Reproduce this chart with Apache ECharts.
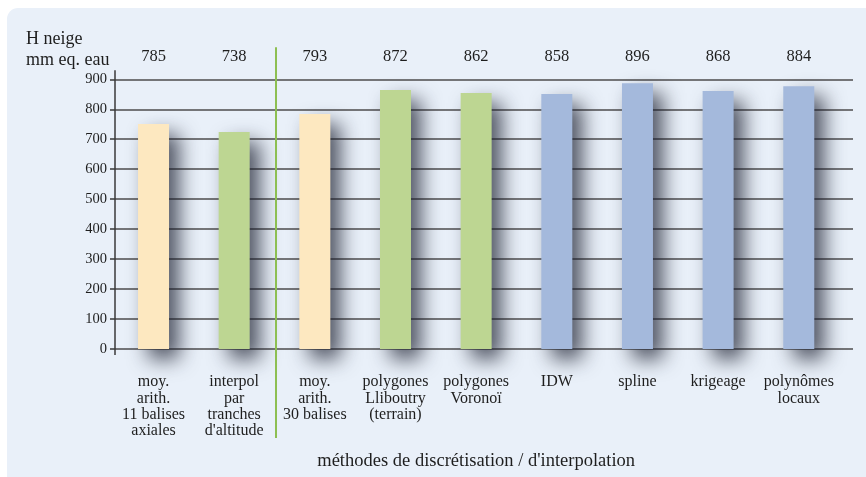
<!DOCTYPE html>
<html><head><meta charset="utf-8">
<script src="https://cdn.jsdelivr.net/npm/echarts@6/dist/echarts.min.js"></script>
<style>html,body{margin:0;padding:0;background:#fff}#c{width:866px;height:477px}</style>
</head><body><div id="c"></div>
<script>
const categories = ['moy.\narith.\n11 balises\naxiales', 'interpol\npar\ntranches\nd\'altitude', 'moy.\narith.\n30 balises', 'polygones\nLliboutry\n(terrain)', 'polygones\nVoronoï', 'IDW', 'spline', 'krigeage', 'polynômes\nlocaux'];
const barValues = [751, 724, 784, 864, 854, 851, 887, 861, 877];
const topLabels = ['785', '738', '793', '872', '862', '858', '896', '868', '884'];
const barGroups = ['arith', 'interp', 'arith', 'poly', 'poly', 'geo', 'geo', 'geo', 'geo'];
const groupColors = { arith: '#fde8c0', interp: '#bdd692', poly: '#bdd692', geo: '#a4b9dc' };
const yTicks = { min: 0, max: 900, interval: 100 };
const yTitle = 'H neige\nmm eq. eau';
const xTitle = 'méthodes de discrétisation / d\'interpolation';

const FONT = '"Liberation Serif", serif';
const TXT = '#1e1e1e';
const chart = echarts.init(document.getElementById('c'), null, { renderer: 'canvas' });

const option = {
  animation: false,
  backgroundColor: '#ffffff',
  textStyle: { fontFamily: FONT, color: TXT },
  title: {
    text: yTitle, left: 21, top: 24,
    textStyle: { fontFamily: FONT, fontSize: 18, fontWeight: 'normal', color: TXT, lineHeight: 21 }
  },
  grid: [
    { left: 115, right: 13, top: 79.3, bottom: 128 },
    { left: 113.2, right: 26.9, top: 79.3, bottom: 128 }
  ],
  xAxis: [
    { type: 'value', gridIndex: 0, show: false, min: 0, max: 1 },
    {
      type: 'category', gridIndex: 1, data: categories, position: 'bottom',
      axisLine: { show: false }, axisTick: { show: false },
      axisLabel: { interval: 0, margin: 25, fontFamily: FONT, fontSize: 16, lineHeight: 16.2, color: TXT, align: 'center' },
      name: xTitle, nameLocation: 'middle', nameGap: 103,
      nameTextStyle: { fontFamily: FONT, fontSize: 18.5, color: TXT }
    },
    {
      type: 'category', gridIndex: 1, data: topLabels, position: 'top',
      axisLine: { show: false }, axisTick: { show: false },
      axisLabel: { interval: 0, margin: 14, fontFamily: FONT, fontSize: 16.5, color: TXT }
    }
  ],
  yAxis: [
    {
      type: 'value', gridIndex: 0, min: yTicks.min, max: yTicks.max, interval: yTicks.interval,
      axisLine: { show: false },
      axisTick: { show: true, length: 5, lineStyle: { color: '#3a3a3a', width: 1.5 } },
      axisLabel: { margin: 8, fontFamily: FONT, fontSize: 14.5, color: TXT },
      splitLine: { show: true, lineStyle: { color: '#4d4d4d', width: 1.7 } }
    },
    { type: 'value', gridIndex: 1, min: yTicks.min, max: yTicks.max, show: false }
  ],
  series: [{
    type: 'bar', xAxisIndex: 1, yAxisIndex: 1, barWidth: 31,
    data: barValues.map((v, i) => ({
      value: v,
      itemStyle: {
        color: groupColors[barGroups[i]],
        shadowColor: 'rgba(25,30,45,0.75)', shadowBlur: 20, shadowOffsetX: 10, shadowOffsetY: 10
      }
    })),
    z: 3
  }]
};
chart.setOption(option);

// decorations positioned from the axes
const sepX = (chart.convertToPixel({ xAxisIndex: 1 }, 1) + chart.convertToPixel({ xAxisIndex: 1 }, 2)) / 2 + 1.5;
const y0 = chart.convertToPixel({ yAxisIndex: 0 }, 0);
const yTop = chart.convertToPixel({ yAxisIndex: 0 }, 900);
const axX = chart.convertToPixel({ xAxisIndex: 0 }, 0);
chart.setOption({
  graphic: [
    { type: 'rect', z: -10, silent: true, shape: { x: 7, y: 8, width: 870, height: 480, r: [11, 0, 0, 0] }, style: { fill: '#e9f0f9' } },
    { type: 'line', z: 10, silent: true, shape: { x1: axX, y1: yTop - 9, x2: axX, y2: y0 + 6 }, style: { stroke: '#3a3a3a', lineWidth: 1.5 } },
    { type: 'line', z: 10, silent: true, shape: { x1: sepX, y1: yTop - 32, x2: sepX, y2: y0 + 89 }, style: { stroke: '#8dbf52', lineWidth: 2 } }
  ]
});
</script></body></html>
